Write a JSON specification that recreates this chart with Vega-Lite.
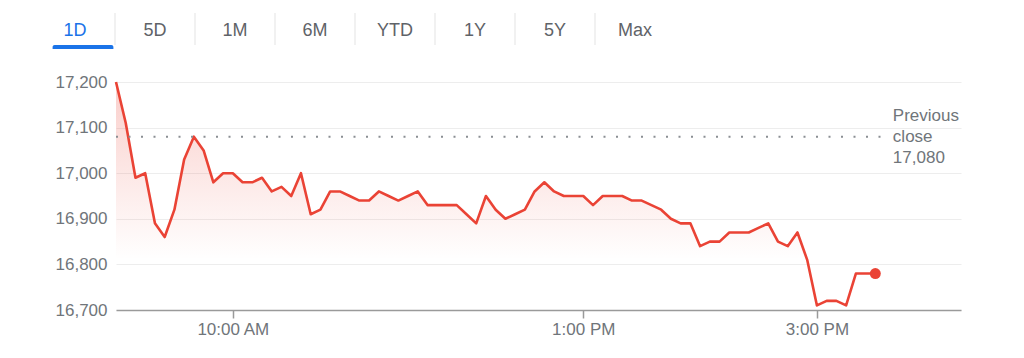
{
  "$schema": "https://vega.github.io/schema/vega-lite/v6.json",
  "width": 845,
  "height": 228,
  "padding": {"left": 116, "top": 82, "right": 63, "bottom": 48},
  "autosize": {"type": "none"},
  "background": "#ffffff",
  "config": {"font": "Liberation Sans", "view": {"stroke": null}},
  "layer": [
    {
      "data": {
        "values": [
          {"t": "2024-05-10T09:00", "v": 17200}, {"t": "2024-05-10T09:05", "v": 17110}, {"t": "2024-05-10T09:10", "v": 16990},
          {"t": "2024-05-10T09:15", "v": 17000}, {"t": "2024-05-10T09:20", "v": 16890}, {"t": "2024-05-10T09:25", "v": 16860},
          {"t": "2024-05-10T09:30", "v": 16920}, {"t": "2024-05-10T09:35", "v": 17030}, {"t": "2024-05-10T09:40", "v": 17080},
          {"t": "2024-05-10T09:45", "v": 17050}, {"t": "2024-05-10T09:50", "v": 16980}, {"t": "2024-05-10T09:55", "v": 17000},
          {"t": "2024-05-10T10:00", "v": 17000}, {"t": "2024-05-10T10:05", "v": 16980}, {"t": "2024-05-10T10:10", "v": 16980},
          {"t": "2024-05-10T10:15", "v": 16990}, {"t": "2024-05-10T10:20", "v": 16960}, {"t": "2024-05-10T10:25", "v": 16970},
          {"t": "2024-05-10T10:30", "v": 16950}, {"t": "2024-05-10T10:35", "v": 17000}, {"t": "2024-05-10T10:40", "v": 16910},
          {"t": "2024-05-10T10:45", "v": 16920}, {"t": "2024-05-10T10:50", "v": 16960}, {"t": "2024-05-10T10:55", "v": 16960},
          {"t": "2024-05-10T11:00", "v": 16950}, {"t": "2024-05-10T11:05", "v": 16940}, {"t": "2024-05-10T11:10", "v": 16940},
          {"t": "2024-05-10T11:15", "v": 16960}, {"t": "2024-05-10T11:20", "v": 16950}, {"t": "2024-05-10T11:25", "v": 16940},
          {"t": "2024-05-10T11:30", "v": 16950}, {"t": "2024-05-10T11:35", "v": 16960}, {"t": "2024-05-10T11:40", "v": 16930},
          {"t": "2024-05-10T11:45", "v": 16930}, {"t": "2024-05-10T11:50", "v": 16930}, {"t": "2024-05-10T11:55", "v": 16930},
          {"t": "2024-05-10T12:00", "v": 16910}, {"t": "2024-05-10T12:05", "v": 16890}, {"t": "2024-05-10T12:10", "v": 16950},
          {"t": "2024-05-10T12:15", "v": 16920}, {"t": "2024-05-10T12:20", "v": 16900}, {"t": "2024-05-10T12:25", "v": 16910},
          {"t": "2024-05-10T12:30", "v": 16920}, {"t": "2024-05-10T12:35", "v": 16960}, {"t": "2024-05-10T12:40", "v": 16980},
          {"t": "2024-05-10T12:45", "v": 16960}, {"t": "2024-05-10T12:50", "v": 16950}, {"t": "2024-05-10T12:55", "v": 16950},
          {"t": "2024-05-10T13:00", "v": 16950}, {"t": "2024-05-10T13:05", "v": 16930}, {"t": "2024-05-10T13:10", "v": 16950},
          {"t": "2024-05-10T13:15", "v": 16950}, {"t": "2024-05-10T13:20", "v": 16950}, {"t": "2024-05-10T13:25", "v": 16940},
          {"t": "2024-05-10T13:30", "v": 16940}, {"t": "2024-05-10T13:35", "v": 16930}, {"t": "2024-05-10T13:40", "v": 16920},
          {"t": "2024-05-10T13:45", "v": 16900}, {"t": "2024-05-10T13:50", "v": 16890}, {"t": "2024-05-10T13:55", "v": 16890},
          {"t": "2024-05-10T14:00", "v": 16840}, {"t": "2024-05-10T14:05", "v": 16850}, {"t": "2024-05-10T14:10", "v": 16850},
          {"t": "2024-05-10T14:15", "v": 16870}, {"t": "2024-05-10T14:20", "v": 16870}, {"t": "2024-05-10T14:25", "v": 16870},
          {"t": "2024-05-10T14:30", "v": 16880}, {"t": "2024-05-10T14:35", "v": 16890}, {"t": "2024-05-10T14:40", "v": 16850},
          {"t": "2024-05-10T14:45", "v": 16840}, {"t": "2024-05-10T14:50", "v": 16870}, {"t": "2024-05-10T14:55", "v": 16810},
          {"t": "2024-05-10T15:00", "v": 16710}, {"t": "2024-05-10T15:05", "v": 16720}, {"t": "2024-05-10T15:10", "v": 16720},
          {"t": "2024-05-10T15:15", "v": 16710}, {"t": "2024-05-10T15:20", "v": 16780}, {"t": "2024-05-10T15:25", "v": 16780},
          {"t": "2024-05-10T15:30", "v": 16780}
        ],
        "format": {"parse": {"t": "date"}}
      },
      "encoding": {
        "x": {
          "field": "t",
          "type": "temporal",
          "scale": {
            "domain": [
              {"year": 2024, "month": 5, "date": 10, "hours": 9, "minutes": 0},
              {"year": 2024, "month": 5, "date": 10, "hours": 16, "minutes": 14}
            ],
            "nice": false
          },
          "axis": {
            "title": null,
            "values": [
              {"year": 2024, "month": 5, "date": 10, "hours": 10},
              {"year": 2024, "month": 5, "date": 10, "hours": 13},
              {"year": 2024, "month": 5, "date": 10, "hours": 15}
            ],
            "format": "%-I:%M %p",
            "grid": false,
            "labelFontSize": 17,
            "labelColor": "#70757a",
            "labelPadding": 3,
            "tickSize": 8,
            "tickColor": "#9a9a9a",
            "tickWidth": 1.5,
            "domainColor": "#9a9a9a",
            "domainWidth": 1.5,
            "labelFlush": false
          }
        },
        "y": {
          "field": "v",
          "type": "quantitative",
          "scale": {"domain": [16700, 17200], "zero": false, "nice": false},
          "axis": {
            "title": null,
            "values": [16700, 16800, 16900, 17000, 17100, 17200],
            "format": ",d",
            "ticks": false,
            "domain": false,
            "grid": true,
            "gridColor": "#ededed",
            "gridWidth": 1,
            "labelFontSize": 17,
            "labelColor": "#70757a",
            "labelPadding": 9
          }
        }
      },
      "layer": [
        {
          "mark": {
            "type": "area",
            "color": {
              "gradient": "linear",
              "x1": 0, "y1": 0, "x2": 0, "y2": 1,
              "stops": [
                {"offset": 0, "color": "rgba(234,67,53,0.26)"},
                {"offset": 0.78, "color": "rgba(234,67,53,0)"}
              ]
            }
          },
          "encoding": {"y2": {"datum": 16700}}
        },
        {
          "mark": {"type": "line", "color": "#ea4335", "strokeWidth": 2.6, "strokeJoin": "round"}
        },
        {
          "transform": [
            {"window": [{"op": "row_number", "as": "rn"}]},
            {"filter": "datum.rn == 1"}
          ],
          "mark": {"type": "rule", "color": "#8a8e93", "strokeWidth": 2, "strokeDash": [2, 10.5]},
          "encoding": {
            "x": {"datum": {"year": 2024, "month": 5, "date": 10, "hours": 9, "minutes": 0}, "type": "temporal"},
            "x2": {"datum": {"year": 2024, "month": 5, "date": 10, "hours": 15, "minutes": 34}},
            "y": {"datum": 17080, "type": "quantitative"}
          }
        },
        {
          "transform": [
            {"window": [{"op": "row_number", "as": "rn"}]},
            {"filter": "datum.rn == 1"}
          ],
          "mark": {"type": "text", "align": "left", "baseline": "middle", "fontSize": 17, "color": "#70757a", "lineBreak": "\n", "lineHeight": 21, "dy": -21},
          "encoding": {
            "x": {"datum": {"year": 2024, "month": 5, "date": 10, "hours": 15, "minutes": 39}, "type": "temporal"},
            "y": {"datum": 17080, "type": "quantitative"},
            "text": {"value": "Previous\nclose\n17,080"}
          }
        },
        {
          "transform": [
            {"window": [{"op": "row_number", "as": "rn"}], "sort": [{"field": "t", "order": "descending"}]},
            {"filter": "datum.rn == 1"}
          ],
          "mark": {"type": "point", "filled": true, "color": "#ea4335", "size": 120, "opacity": 1}
        }
      ]
    },
    {
      "data": {
        "values": [
          {"tab": "1D"}, {"tab": "5D"}, {"tab": "1M"}, {"tab": "6M"},
          {"tab": "YTD"}, {"tab": "1Y"}, {"tab": "5Y"}, {"tab": "Max"}
        ]
      },
      "layer": [
        {
          "mark": {"type": "text", "fontSize": 18, "baseline": "middle", "align": "center"},
          "encoding": {
            "x": {
              "field": "tab", "type": "nominal", "axis": null,
              "scale": {"type": "band", "domain": ["1D", "5D", "1M", "6M", "YTD", "1Y", "5Y", "Max"], "range": [-81, 559], "paddingInner": 0, "paddingOuter": 0}
            },
            "y": {"value": -51},
            "text": {"field": "tab"},
            "color": {"condition": {"test": "datum.tab === '1D'", "value": "#1a73e8"}, "value": "#5f6368"}
          }
        },
        {
          "transform": [{"filter": "datum.tab !== 'Max'"}],
          "mark": {"type": "rule", "color": "#e3e3e3", "strokeWidth": 1},
          "encoding": {
            "x": {
              "field": "tab", "type": "nominal", "axis": null, "bandPosition": 1,
              "scale": {"type": "band", "domain": ["1D", "5D", "1M", "6M", "YTD", "1Y", "5Y", "Max"], "range": [-81, 559], "paddingInner": 0, "paddingOuter": 0}
            },
            "y": {"value": -69},
            "y2": {"value": -37}
          }
        },
        {
          "transform": [{"filter": "datum.tab === '1D'"}],
          "mark": {"type": "bar", "color": "#1a73e8", "width": {"band": 0.76}, "cornerRadiusTopLeft": 3, "cornerRadiusTopRight": 3},
          "encoding": {
            "x": {
              "field": "tab", "type": "nominal", "axis": null,
              "scale": {"type": "band", "domain": ["1D", "5D", "1M", "6M", "YTD", "1Y", "5Y", "Max"], "range": [-81, 559], "paddingInner": 0, "paddingOuter": 0}
            },
            "xOffset": {"value": 8},
            "y": {"value": -37},
            "y2": {"value": -33}
          }
        }
      ]
    }
  ],
  "resolve": {"scale": {"x": "independent", "y": "independent"}}
}
